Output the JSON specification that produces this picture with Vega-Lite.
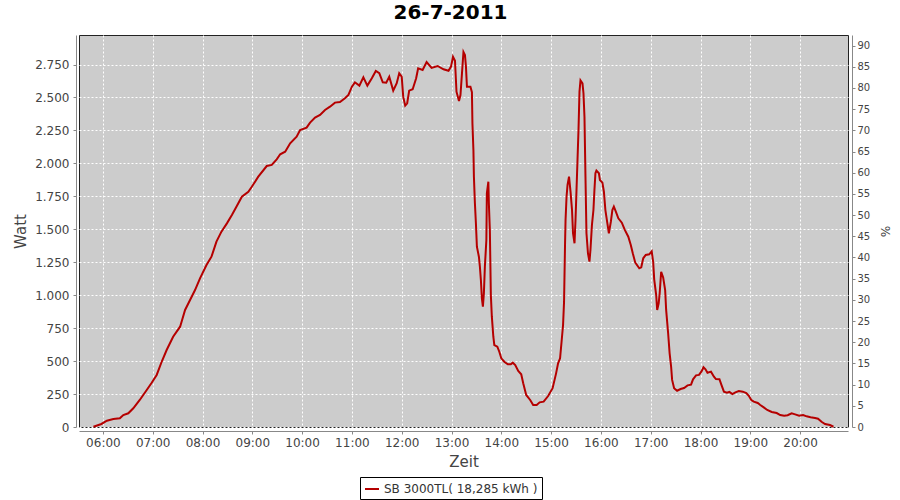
{
  "$schema": "https://vega.github.io/schema/vega-lite/v6.json",
  "autosize": {"type": "none"},
  "width": 769,
  "height": 392,
  "padding": {"left": 79, "top": 35, "right": 52, "bottom": 73},
  "background": "white",
  "title": {"text": "26-7-2011", "font": "DejaVu Sans", "fontSize": 20, "fontWeight": "bold", "color": "#000000", "anchor": "middle", "dx": -13, "offset": 12},
  "config": {
    "view": {"stroke": "#222222", "strokeWidth": 1, "fill": "#cccccc"},
    "font": "DejaVu Sans",
    "axis": {
      "labelFont": "DejaVu Sans", "titleFont": "DejaVu Sans",
      "labelColor": "#444444", "titleColor": "#444444",
      "domainColor": "#888888", "tickColor": "#888888",
      "gridColor": "#ffffff", "gridDash": [2, 2], "gridWidth": 1, "gridOpacity": 1,
      "tickSize": 3, "titleFontWeight": "normal"
    }
  },
  "layer": [
    {
      "data": {"values": [
        {"t": "2011-07-26T05:48:36Z", "w": 2},
        {"t": "2011-07-26T05:58:12Z", "w": 23},
        {"t": "2011-07-26T06:04:48Z", "w": 48},
        {"t": "2011-07-26T06:12:36Z", "w": 61},
        {"t": "2011-07-26T06:20:24Z", "w": 66},
        {"t": "2011-07-26T06:24:36Z", "w": 91},
        {"t": "2011-07-26T06:30:36Z", "w": 104},
        {"t": "2011-07-26T06:36:36Z", "w": 142},
        {"t": "2011-07-26T06:44:24Z", "w": 205},
        {"t": "2011-07-26T06:52:48Z", "w": 281},
        {"t": "2011-07-26T06:58:48Z", "w": 336},
        {"t": "2011-07-26T07:04:48Z", "w": 395},
        {"t": "2011-07-26T07:10:48Z", "w": 495},
        {"t": "2011-07-26T07:16:48Z", "w": 584},
        {"t": "2011-07-26T07:24:36Z", "w": 685},
        {"t": "2011-07-26T07:33:00Z", "w": 761},
        {"t": "2011-07-26T07:34:48Z", "w": 799},
        {"t": "2011-07-26T07:39:00Z", "w": 888},
        {"t": "2011-07-26T07:45:00Z", "w": 964},
        {"t": "2011-07-26T07:51:00Z", "w": 1039},
        {"t": "2011-07-26T07:57:00Z", "w": 1128},
        {"t": "2011-07-26T08:04:48Z", "w": 1229},
        {"t": "2011-07-26T08:10:48Z", "w": 1292},
        {"t": "2011-07-26T08:16:48Z", "w": 1406},
        {"t": "2011-07-26T08:22:48Z", "w": 1482},
        {"t": "2011-07-26T08:29:24Z", "w": 1545},
        {"t": "2011-07-26T08:35:24Z", "w": 1608},
        {"t": "2011-07-26T08:40:12Z", "w": 1664},
        {"t": "2011-07-26T08:47:24Z", "w": 1747},
        {"t": "2011-07-26T08:55:12Z", "w": 1785},
        {"t": "2011-07-26T08:59:24Z", "w": 1823},
        {"t": "2011-07-26T09:07:12Z", "w": 1899},
        {"t": "2011-07-26T09:17:24Z", "w": 1980},
        {"t": "2011-07-26T09:23:24Z", "w": 1988},
        {"t": "2011-07-26T09:29:24Z", "w": 2031},
        {"t": "2011-07-26T09:33:36Z", "w": 2069},
        {"t": "2011-07-26T09:39:36Z", "w": 2089},
        {"t": "2011-07-26T09:45:36Z", "w": 2152},
        {"t": "2011-07-26T09:53:24Z", "w": 2203},
        {"t": "2011-07-26T09:57:36Z", "w": 2253},
        {"t": "2011-07-26T10:05:24Z", "w": 2271},
        {"t": "2011-07-26T10:09:36Z", "w": 2309},
        {"t": "2011-07-26T10:15:36Z", "w": 2347},
        {"t": "2011-07-26T10:21:36Z", "w": 2367},
        {"t": "2011-07-26T10:27:36Z", "w": 2405},
        {"t": "2011-07-26T10:33:36Z", "w": 2430},
        {"t": "2011-07-26T10:39:36Z", "w": 2461},
        {"t": "2011-07-26T10:45:36Z", "w": 2466},
        {"t": "2011-07-26T10:51:36Z", "w": 2494},
        {"t": "2011-07-26T10:55:48Z", "w": 2520},
        {"t": "2011-07-26T11:00:00Z", "w": 2582},
        {"t": "2011-07-26T11:03:36Z", "w": 2615},
        {"t": "2011-07-26T11:09:00Z", "w": 2590},
        {"t": "2011-07-26T11:13:48Z", "w": 2653},
        {"t": "2011-07-26T11:18:36Z", "w": 2590},
        {"t": "2011-07-26T11:24:00Z", "w": 2646},
        {"t": "2011-07-26T11:28:48Z", "w": 2701},
        {"t": "2011-07-26T11:33:00Z", "w": 2684},
        {"t": "2011-07-26T11:37:12Z", "w": 2615},
        {"t": "2011-07-26T11:41:24Z", "w": 2612},
        {"t": "2011-07-26T11:45:00Z", "w": 2658},
        {"t": "2011-07-26T11:49:48Z", "w": 2552},
        {"t": "2011-07-26T11:54:00Z", "w": 2608},
        {"t": "2011-07-26T11:57:00Z", "w": 2684},
        {"t": "2011-07-26T12:00:00Z", "w": 2658},
        {"t": "2011-07-26T12:01:48Z", "w": 2506},
        {"t": "2011-07-26T12:04:12Z", "w": 2438},
        {"t": "2011-07-26T12:06:36Z", "w": 2456},
        {"t": "2011-07-26T12:09:00Z", "w": 2552},
        {"t": "2011-07-26T12:13:12Z", "w": 2562},
        {"t": "2011-07-26T12:17:24Z", "w": 2646},
        {"t": "2011-07-26T12:19:48Z", "w": 2721},
        {"t": "2011-07-26T12:25:12Z", "w": 2709},
        {"t": "2011-07-26T12:30:00Z", "w": 2769},
        {"t": "2011-07-26T12:36:00Z", "w": 2724},
        {"t": "2011-07-26T12:43:12Z", "w": 2739},
        {"t": "2011-07-26T12:50:24Z", "w": 2714},
        {"t": "2011-07-26T12:56:24Z", "w": 2703},
        {"t": "2011-07-26T12:59:24Z", "w": 2734},
        {"t": "2011-07-26T13:01:48Z", "w": 2809},
        {"t": "2011-07-26T13:04:12Z", "w": 2779},
        {"t": "2011-07-26T13:06:00Z", "w": 2544},
        {"t": "2011-07-26T13:09:00Z", "w": 2473},
        {"t": "2011-07-26T13:10:48Z", "w": 2519},
        {"t": "2011-07-26T13:14:24Z", "w": 2845},
        {"t": "2011-07-26T13:16:12Z", "w": 2822},
        {"t": "2011-07-26T13:17:24Z", "w": 2734},
        {"t": "2011-07-26T13:18:36Z", "w": 2582},
        {"t": "2011-07-26T13:22:48Z", "w": 2582},
        {"t": "2011-07-26T13:24:36Z", "w": 2540},
        {"t": "2011-07-26T13:25:12Z", "w": 2304},
        {"t": "2011-07-26T13:26:24Z", "w": 2102},
        {"t": "2011-07-26T13:27:00Z", "w": 1899},
        {"t": "2011-07-26T13:28:12Z", "w": 1697},
        {"t": "2011-07-26T13:29:24Z", "w": 1545},
        {"t": "2011-07-26T13:30:36Z", "w": 1368},
        {"t": "2011-07-26T13:33:00Z", "w": 1292},
        {"t": "2011-07-26T13:34:12Z", "w": 1216},
        {"t": "2011-07-26T13:35:24Z", "w": 1115},
        {"t": "2011-07-26T13:36:36Z", "w": 976},
        {"t": "2011-07-26T13:37:48Z", "w": 913},
        {"t": "2011-07-26T13:39:00Z", "w": 1014},
        {"t": "2011-07-26T13:40:12Z", "w": 1216},
        {"t": "2011-07-26T13:42:00Z", "w": 1419},
        {"t": "2011-07-26T13:42:36Z", "w": 1773},
        {"t": "2011-07-26T13:44:24Z", "w": 1861},
        {"t": "2011-07-26T13:45:00Z", "w": 1697},
        {"t": "2011-07-26T13:46:12Z", "w": 1495},
        {"t": "2011-07-26T13:47:24Z", "w": 1001},
        {"t": "2011-07-26T13:48:36Z", "w": 837},
        {"t": "2011-07-26T13:50:24Z", "w": 685},
        {"t": "2011-07-26T13:51:36Z", "w": 622},
        {"t": "2011-07-26T13:55:12Z", "w": 609},
        {"t": "2011-07-26T13:57:36Z", "w": 571},
        {"t": "2011-07-26T14:00:00Z", "w": 521},
        {"t": "2011-07-26T14:03:36Z", "w": 495},
        {"t": "2011-07-26T14:07:48Z", "w": 476},
        {"t": "2011-07-26T14:11:24Z", "w": 476},
        {"t": "2011-07-26T14:13:48Z", "w": 488},
        {"t": "2011-07-26T14:16:48Z", "w": 470},
        {"t": "2011-07-26T14:20:24Z", "w": 425},
        {"t": "2011-07-26T14:24:00Z", "w": 400},
        {"t": "2011-07-26T14:26:24Z", "w": 332},
        {"t": "2011-07-26T14:30:00Z", "w": 243},
        {"t": "2011-07-26T14:34:48Z", "w": 205},
        {"t": "2011-07-26T14:38:24Z", "w": 167},
        {"t": "2011-07-26T14:42:36Z", "w": 167},
        {"t": "2011-07-26T14:46:12Z", "w": 187},
        {"t": "2011-07-26T14:51:00Z", "w": 192},
        {"t": "2011-07-26T14:56:24Z", "w": 235},
        {"t": "2011-07-26T15:01:48Z", "w": 294},
        {"t": "2011-07-26T15:06:00Z", "w": 407},
        {"t": "2011-07-26T15:08:24Z", "w": 483},
        {"t": "2011-07-26T15:10:48Z", "w": 521},
        {"t": "2011-07-26T15:12:36Z", "w": 647},
        {"t": "2011-07-26T15:14:24Z", "w": 774},
        {"t": "2011-07-26T15:15:36Z", "w": 951},
        {"t": "2011-07-26T15:16:48Z", "w": 1394},
        {"t": "2011-07-26T15:17:24Z", "w": 1571},
        {"t": "2011-07-26T15:18:36Z", "w": 1747},
        {"t": "2011-07-26T15:19:48Z", "w": 1836},
        {"t": "2011-07-26T15:21:36Z", "w": 1899},
        {"t": "2011-07-26T15:23:24Z", "w": 1785},
        {"t": "2011-07-26T15:25:12Z", "w": 1646},
        {"t": "2011-07-26T15:26:24Z", "w": 1470},
        {"t": "2011-07-26T15:28:12Z", "w": 1394},
        {"t": "2011-07-26T15:29:24Z", "w": 1571},
        {"t": "2011-07-26T15:30:36Z", "w": 1798},
        {"t": "2011-07-26T15:31:48Z", "w": 2026},
        {"t": "2011-07-26T15:33:00Z", "w": 2253},
        {"t": "2011-07-26T15:34:12Z", "w": 2544},
        {"t": "2011-07-26T15:35:24Z", "w": 2630},
        {"t": "2011-07-26T15:37:48Z", "w": 2607},
        {"t": "2011-07-26T15:39:00Z", "w": 2532},
        {"t": "2011-07-26T15:40:12Z", "w": 2354},
        {"t": "2011-07-26T15:41:24Z", "w": 1899},
        {"t": "2011-07-26T15:42:36Z", "w": 1470},
        {"t": "2011-07-26T15:44:24Z", "w": 1318},
        {"t": "2011-07-26T15:46:12Z", "w": 1255},
        {"t": "2011-07-26T15:47:24Z", "w": 1343},
        {"t": "2011-07-26T15:49:12Z", "w": 1533},
        {"t": "2011-07-26T15:51:00Z", "w": 1646},
        {"t": "2011-07-26T15:52:12Z", "w": 1798},
        {"t": "2011-07-26T15:53:24Z", "w": 1925},
        {"t": "2011-07-26T15:54:36Z", "w": 1945},
        {"t": "2011-07-26T15:57:36Z", "w": 1925},
        {"t": "2011-07-26T15:58:48Z", "w": 1874},
        {"t": "2011-07-26T16:01:48Z", "w": 1854},
        {"t": "2011-07-26T16:03:36Z", "w": 1785},
        {"t": "2011-07-26T16:05:24Z", "w": 1646},
        {"t": "2011-07-26T16:07:48Z", "w": 1545},
        {"t": "2011-07-26T16:09:36Z", "w": 1470},
        {"t": "2011-07-26T16:12:00Z", "w": 1558},
        {"t": "2011-07-26T16:13:48Z", "w": 1646},
        {"t": "2011-07-26T16:15:36Z", "w": 1672},
        {"t": "2011-07-26T16:18:00Z", "w": 1634},
        {"t": "2011-07-26T16:21:00Z", "w": 1583},
        {"t": "2011-07-26T16:25:12Z", "w": 1550},
        {"t": "2011-07-26T16:28:48Z", "w": 1495},
        {"t": "2011-07-26T16:33:00Z", "w": 1444},
        {"t": "2011-07-26T16:36:00Z", "w": 1381},
        {"t": "2011-07-26T16:38:24Z", "w": 1318},
        {"t": "2011-07-26T16:41:24Z", "w": 1247},
        {"t": "2011-07-26T16:46:12Z", "w": 1204},
        {"t": "2011-07-26T16:48:36Z", "w": 1212},
        {"t": "2011-07-26T16:51:00Z", "w": 1280},
        {"t": "2011-07-26T16:54:00Z", "w": 1305},
        {"t": "2011-07-26T16:58:12Z", "w": 1310},
        {"t": "2011-07-26T17:01:12Z", "w": 1333},
        {"t": "2011-07-26T17:03:00Z", "w": 1250},
        {"t": "2011-07-26T17:04:12Z", "w": 1120},
        {"t": "2011-07-26T17:06:36Z", "w": 1000},
        {"t": "2011-07-26T17:07:48Z", "w": 888},
        {"t": "2011-07-26T17:09:36Z", "w": 938},
        {"t": "2011-07-26T17:10:48Z", "w": 1014},
        {"t": "2011-07-26T17:12:36Z", "w": 1178},
        {"t": "2011-07-26T17:15:00Z", "w": 1135},
        {"t": "2011-07-26T17:17:24Z", "w": 1039},
        {"t": "2011-07-26T17:18:36Z", "w": 888},
        {"t": "2011-07-26T17:21:00Z", "w": 711},
        {"t": "2011-07-26T17:22:48Z", "w": 559},
        {"t": "2011-07-26T17:24:36Z", "w": 457},
        {"t": "2011-07-26T17:25:48Z", "w": 357},
        {"t": "2011-07-26T17:28:12Z", "w": 294},
        {"t": "2011-07-26T17:31:48Z", "w": 275},
        {"t": "2011-07-26T17:36:00Z", "w": 288},
        {"t": "2011-07-26T17:40:12Z", "w": 296},
        {"t": "2011-07-26T17:44:24Z", "w": 316},
        {"t": "2011-07-26T17:48:36Z", "w": 321},
        {"t": "2011-07-26T17:51:00Z", "w": 362},
        {"t": "2011-07-26T17:54:36Z", "w": 392},
        {"t": "2011-07-26T17:58:12Z", "w": 395},
        {"t": "2011-07-26T18:01:12Z", "w": 422},
        {"t": "2011-07-26T18:03:36Z", "w": 453},
        {"t": "2011-07-26T18:06:00Z", "w": 438},
        {"t": "2011-07-26T18:08:24Z", "w": 412},
        {"t": "2011-07-26T18:12:36Z", "w": 420},
        {"t": "2011-07-26T18:16:12Z", "w": 382},
        {"t": "2011-07-26T18:18:36Z", "w": 364},
        {"t": "2011-07-26T18:22:48Z", "w": 362},
        {"t": "2011-07-26T18:25:12Z", "w": 319},
        {"t": "2011-07-26T18:28:12Z", "w": 268},
        {"t": "2011-07-26T18:31:48Z", "w": 260},
        {"t": "2011-07-26T18:34:48Z", "w": 266},
        {"t": "2011-07-26T18:38:24Z", "w": 250},
        {"t": "2011-07-26T18:42:00Z", "w": 263},
        {"t": "2011-07-26T18:46:12Z", "w": 273},
        {"t": "2011-07-26T18:51:00Z", "w": 268},
        {"t": "2011-07-26T18:55:12Z", "w": 258},
        {"t": "2011-07-26T18:58:12Z", "w": 237},
        {"t": "2011-07-26T19:01:12Z", "w": 205},
        {"t": "2011-07-26T19:04:12Z", "w": 192},
        {"t": "2011-07-26T19:09:00Z", "w": 182},
        {"t": "2011-07-26T19:12:00Z", "w": 167},
        {"t": "2011-07-26T19:16:12Z", "w": 149},
        {"t": "2011-07-26T19:20:24Z", "w": 129},
        {"t": "2011-07-26T19:25:48Z", "w": 114},
        {"t": "2011-07-26T19:31:48Z", "w": 106},
        {"t": "2011-07-26T19:36:00Z", "w": 91},
        {"t": "2011-07-26T19:40:48Z", "w": 86},
        {"t": "2011-07-26T19:45:00Z", "w": 89},
        {"t": "2011-07-26T19:49:48Z", "w": 104},
        {"t": "2011-07-26T19:54:00Z", "w": 96},
        {"t": "2011-07-26T19:58:48Z", "w": 86},
        {"t": "2011-07-26T20:03:36Z", "w": 91},
        {"t": "2011-07-26T20:07:48Z", "w": 81},
        {"t": "2011-07-26T20:12:36Z", "w": 74},
        {"t": "2011-07-26T20:18:00Z", "w": 68},
        {"t": "2011-07-26T20:21:36Z", "w": 63},
        {"t": "2011-07-26T20:25:48Z", "w": 40},
        {"t": "2011-07-26T20:30:00Z", "w": 23},
        {"t": "2011-07-26T20:36:00Z", "w": 15},
        {"t": "2011-07-26T20:40:12Z", "w": 2}
      ]},
      "mark": {"type": "line", "strokeWidth": 2, "interpolate": "linear"},
      "encoding": {
        "x": {
          "field": "t", "type": "temporal",
          "scale": {"type": "utc", "domain": [
            {"year": 2011, "month": 7, "date": 26, "hours": 5, "minutes": 31, "seconds": 12, "utc": true},
            {"year": 2011, "month": 7, "date": 26, "hours": 20, "minutes": 57, "seconds": 42, "utc": true}
          ], "nice": false},
          "axis": {
            "title": "Zeit", "titleFontSize": 15, "titlePadding": 6,
            "format": "%H:%M",
            "tickCount": 16,
            "labelFontSize": 12, "labelPadding": 3, "offset": 4,
            "labelFlush": false, "labelOverlap": false
          }
        },
        "y": {
          "field": "w", "type": "quantitative",
          "scale": {"domain": [0, 2974], "nice": false, "zero": true},
          "axis": {
            "title": "Watt", "titleFontSize": 15, "titlePadding": 6,
            "values": [0, 250, 500, 750, 1000, 1250, 1500, 1750, 2000, 2250, 2500, 2750],
            "labelExpr": "replace(format(datum.value, ',d'), ',', '.')",
            "labelFontSize": 12, "labelPadding": 4, "offset": 3
          }
        },
        "color": {
          "datum": "SB 3000TL( 18,285 kWh )",
          "scale": {"range": ["#b50000"]},
          "legend": {
            "title": null, "orient": "none", "legendX": 281, "legendY": 442,
            "direction": "horizontal",
            "symbolType": "stroke", "symbolSize": 196, "symbolStrokeWidth": 2,
            "labelFont": "DejaVu Sans", "labelFontSize": 12, "labelColor": "#333333",
            "strokeColor": "#000000", "fillColor": "#ffffff", "padding": 4, "cornerRadius": 0
          }
        }
      }
    },
    {
      "data": {"values": [{"p": 0}, {"p": 92.5}]},
      "mark": {"type": "rule", "opacity": 0},
      "encoding": {
        "y": {
          "field": "p", "type": "quantitative",
          "scale": {"domain": [0, 92.5], "nice": false},
          "axis": {
            "orient": "right", "title": "%", "titleFontSize": 12, "titlePadding": 8,
            "values": [0, 5, 10, 15, 20, 25, 30, 35, 40, 45, 50, 55, 60, 65, 70, 75, 80, 85, 90],
            "grid": false, "labelFontSize": 10, "labelPadding": 2, "offset": 4
          }
        }
      }
    }
  ],
  "resolve": {"scale": {"y": "independent"}}
}
